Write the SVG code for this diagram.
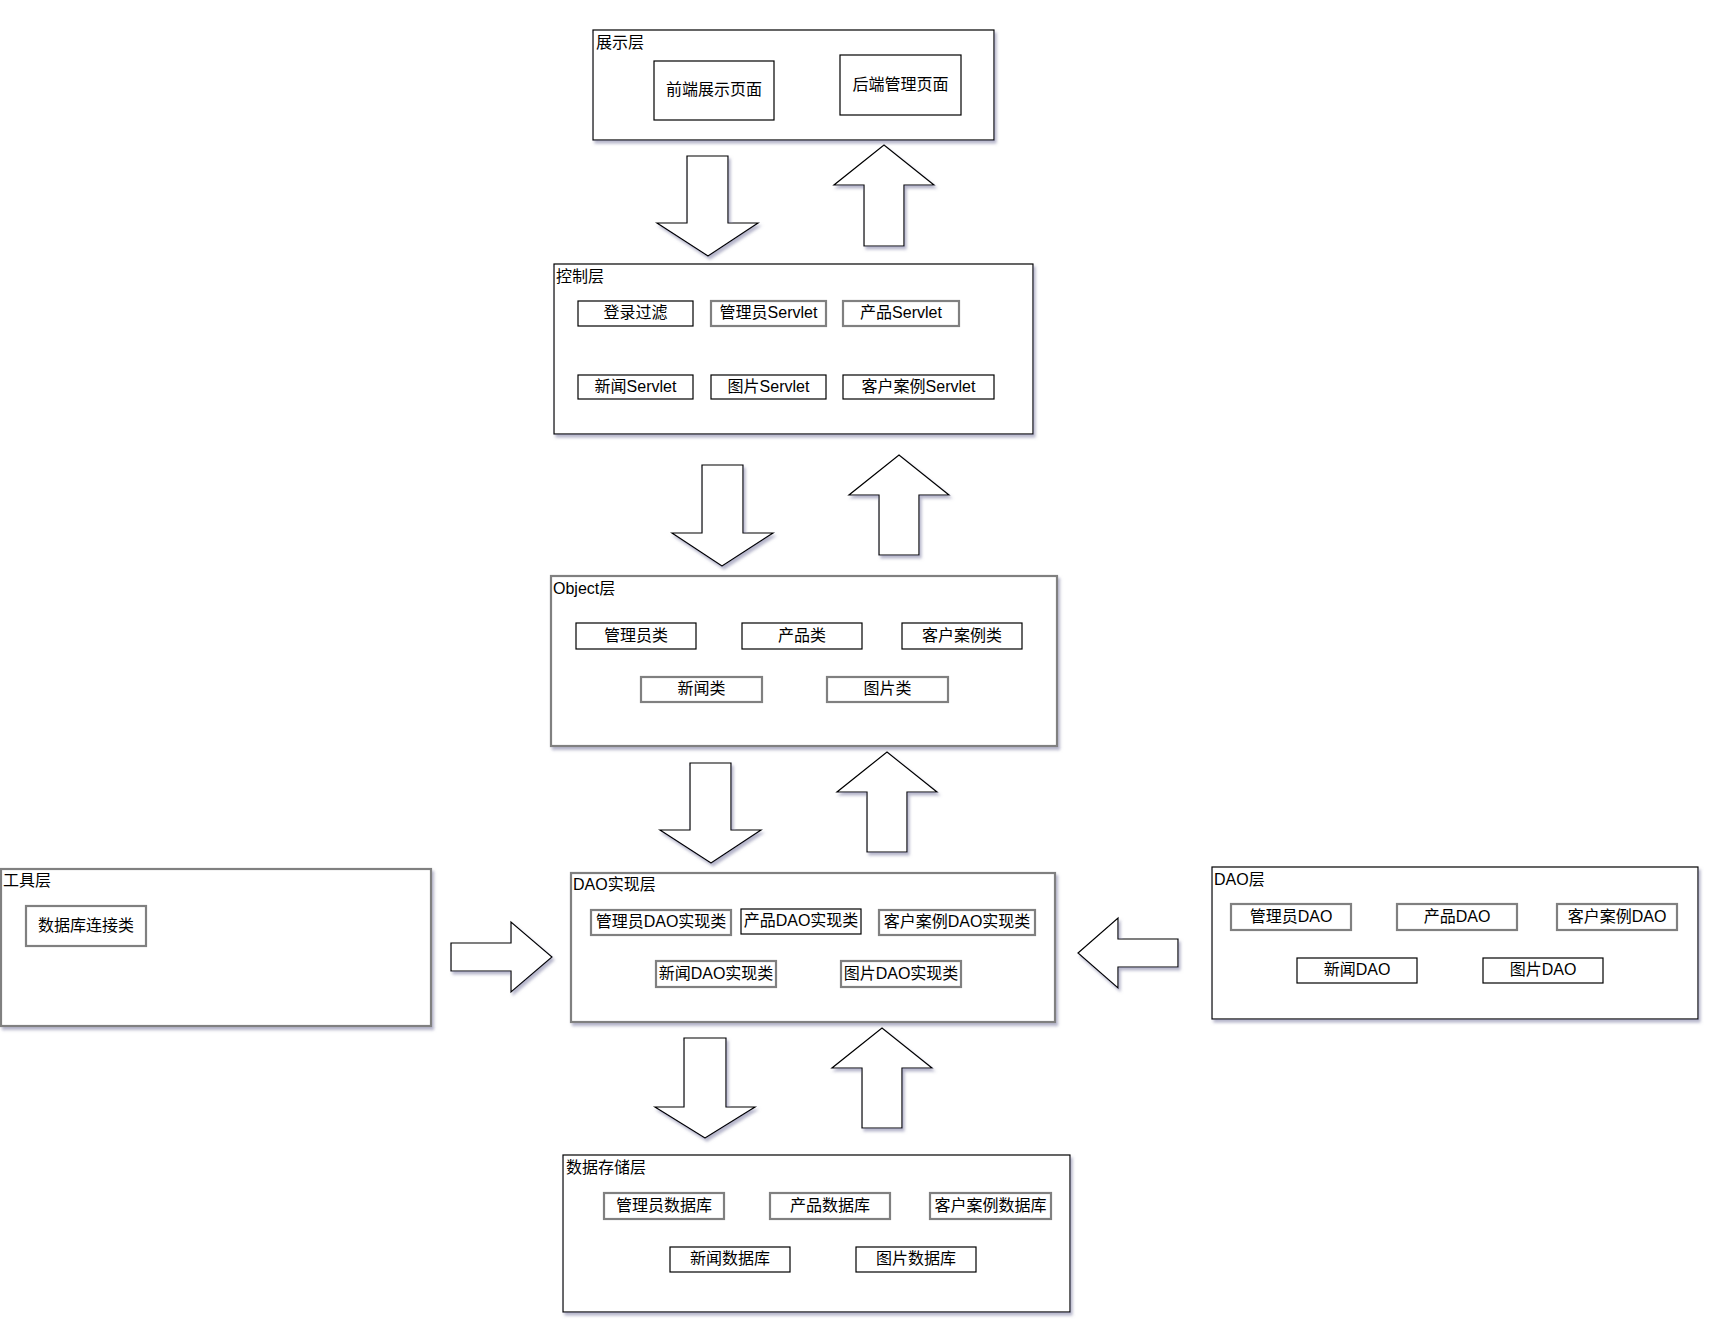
<svg xmlns="http://www.w3.org/2000/svg" width="1730" height="1322" viewBox="0 0 1730 1322">
<defs>
<filter id="sh" x="-5%" y="-5%" width="115%" height="120%">
<feDropShadow dx="2" dy="3" stdDeviation="1.6" flood-color="#7a7aa0" flood-opacity="0.55"/>
</filter>
<style>
text{font-family:"Liberation Sans","Noto Sans CJK SC",sans-serif;font-size:16px;fill:#000}
.c{text-anchor:middle}
.layer{fill:#fff;stroke:#000;stroke-width:1.2;filter:url(#sh)}
.layerg{fill:#fff;stroke:#808080;stroke-width:2.2;filter:url(#sh)}
.box{fill:#fff;stroke:#000;stroke-width:1.2}
.boxg{fill:#fff;stroke:#808080;stroke-width:2.2}
.arr{fill:#fff;stroke:#000;stroke-width:1.2;stroke-linejoin:miter;filter:url(#sh)}
</style>
</defs>
<rect width="1730" height="1322" fill="#fff"/>

<g id="connectors">
<polygon class="arr" points="687,156 728,156 728,223 758,223 708,256 657,223 687,223"/>
<polygon class="arr" points="884,145 934,185 904,185 904,246 864,246 864,185 834,185"/>
<polygon class="arr" points="702,465 743,465 743,533 773,533 722,566 672,533 702,533"/>
<polygon class="arr" points="899,455 949,495 919,495 919,555 879,555 879,495 849,495"/>
<polygon class="arr" points="690,763 731,763 731,830 761,830 711,863 660,830 690,830"/>
<polygon class="arr" points="887,752 937,792 907,792 907,852 867,852 867,792 837,792"/>
<polygon class="arr" points="684,1038 726,1038 726,1107 755,1107 705,1138 655,1107 684,1107"/>
<polygon class="arr" points="882,1028 932,1068 902,1068 902,1128 862,1128 862,1068 832,1068"/>
<polygon class="arr" points="451,943 511,943 511,922 552,957 511,992 511,971 451,971"/>
<polygon class="arr" points="1178,939 1118,939 1118,918 1078,953 1118,988 1118,967 1178,967"/>
</g>

<g id="layer-display">
<rect class="layer" x="593" y="30" width="401" height="110"/>
<text x="596" y="48">展示层</text>
</g>
<g id="node-frontend">
<rect class="box" x="654" y="61" width="120" height="59"/>
<text class="c" x="714" y="94.5">前端展示页面</text>
</g>
<g id="node-backend">
<rect class="box" x="840" y="55" width="121" height="60"/>
<text class="c" x="900.5" y="89.5">后端管理页面</text>
</g>

<g id="layer-control">
<rect class="layer" x="554" y="264" width="479" height="170"/>
<text x="556" y="282">控制层</text>
</g>
<g id="node-login-filter"><rect class="box" x="578" y="301" width="115" height="25"/><text class="c" x="635.5" y="317.5">登录过滤</text></g>
<g id="node-admin-servlet"><rect class="boxg" x="711" y="301" width="115" height="25"/><text class="c" x="768.5" y="317.5">管理员Servlet</text></g>
<g id="node-product-servlet"><rect class="boxg" x="843" y="301" width="116" height="25"/><text class="c" x="901" y="317.5">产品Servlet</text></g>
<g id="node-news-servlet"><rect class="box" x="578" y="375" width="115" height="24"/><text class="c" x="635.5" y="391.5">新闻Servlet</text></g>
<g id="node-image-servlet"><rect class="box" x="711" y="375" width="115" height="24"/><text class="c" x="768.5" y="391.5">图片Servlet</text></g>
<g id="node-case-servlet"><rect class="box" x="843" y="375" width="151" height="24"/><text class="c" x="918.5" y="391.5">客户案例Servlet</text></g>

<g id="layer-object">
<rect class="layerg" x="551" y="576" width="506" height="170"/>
<text x="553" y="594">Object层</text>
</g>
<g id="node-admin-class"><rect class="box" x="576" y="623" width="120" height="26"/><text class="c" x="636" y="640.5">管理员类</text></g>
<g id="node-product-class"><rect class="box" x="742" y="623" width="120" height="26"/><text class="c" x="802" y="640.5">产品类</text></g>
<g id="node-case-class"><rect class="box" x="902" y="623" width="120" height="26"/><text class="c" x="962" y="640.5">客户案例类</text></g>
<g id="node-news-class"><rect class="boxg" x="641" y="677" width="121" height="25"/><text class="c" x="701.5" y="693.5">新闻类</text></g>
<g id="node-image-class"><rect class="boxg" x="827" y="677" width="121" height="25"/><text class="c" x="887.5" y="693.5">图片类</text></g>

<g id="layer-tool">
<rect class="layerg" x="1" y="869" width="430" height="157"/>
<text x="3" y="886">工具层</text>
</g>
<g id="node-db-conn"><rect class="boxg" x="26" y="906" width="120" height="40"/><text class="c" x="86" y="930.5">数据库连接类</text></g>

<g id="layer-dao-impl">
<rect class="layerg" x="571" y="873" width="484" height="149"/>
<text x="573" y="890">DAO实现层</text>
</g>
<g id="node-admin-dao-impl"><rect class="boxg" x="591" y="910" width="140" height="25"/><text class="c" x="661" y="926.5">管理员DAO实现类</text></g>
<g id="node-product-dao-impl"><rect class="box" x="741" y="909" width="120" height="25"/><text class="c" x="801" y="925.5">产品DAO实现类</text></g>
<g id="node-case-dao-impl"><rect class="boxg" x="879" y="910" width="156" height="25"/><text class="c" x="957" y="926.5">客户案例DAO实现类</text></g>
<g id="node-news-dao-impl"><rect class="boxg" x="656" y="961" width="120" height="26"/><text class="c" x="716" y="978.5">新闻DAO实现类</text></g>
<g id="node-image-dao-impl"><rect class="boxg" x="841" y="961" width="120" height="26"/><text class="c" x="901" y="978.5">图片DAO实现类</text></g>

<g id="layer-dao">
<rect class="layer" x="1212" y="867" width="486" height="152"/>
<text x="1214" y="885">DAO层</text>
</g>
<g id="node-admin-dao"><rect class="boxg" x="1231" y="904" width="120" height="26"/><text class="c" x="1291" y="921.5">管理员DAO</text></g>
<g id="node-product-dao"><rect class="boxg" x="1397" y="904" width="120" height="26"/><text class="c" x="1457" y="921.5">产品DAO</text></g>
<g id="node-case-dao"><rect class="boxg" x="1557" y="904" width="120" height="26"/><text class="c" x="1617" y="921.5">客户案例DAO</text></g>
<g id="node-news-dao"><rect class="box" x="1297" y="958" width="120" height="25"/><text class="c" x="1357" y="974.5">新闻DAO</text></g>
<g id="node-image-dao"><rect class="box" x="1483" y="958" width="120" height="25"/><text class="c" x="1543" y="974.5">图片DAO</text></g>

<g id="layer-storage">
<rect class="layer" x="563" y="1155" width="507" height="157"/>
<text x="566" y="1173">数据存储层</text>
</g>
<g id="node-admin-db"><rect class="boxg" x="604" y="1193" width="120" height="26"/><text class="c" x="664" y="1210.5">管理员数据库</text></g>
<g id="node-product-db"><rect class="boxg" x="770" y="1193" width="120" height="26"/><text class="c" x="830" y="1210.5">产品数据库</text></g>
<g id="node-case-db"><rect class="boxg" x="930" y="1193" width="121" height="26"/><text class="c" x="990.5" y="1210.5">客户案例数据库</text></g>
<g id="node-news-db"><rect class="box" x="670" y="1247" width="120" height="25"/><text class="c" x="730" y="1263.5">新闻数据库</text></g>
<g id="node-image-db"><rect class="box" x="856" y="1247" width="120" height="25"/><text class="c" x="916" y="1263.5">图片数据库</text></g>
</svg>
